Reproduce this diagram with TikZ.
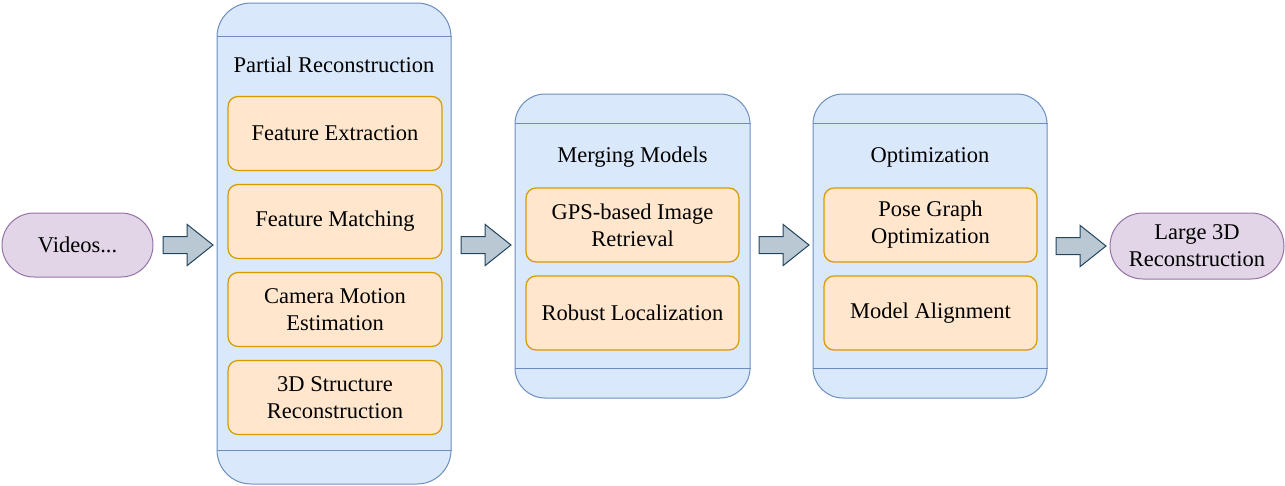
\documentclass[tikz,border=0pt]{standalone}
\usepackage{fontspec}
\setmainfont{Liberation Serif}
\usetikzlibrary{shapes.misc, shapes.arrows, positioning, calc}
\definecolor{laneFill}{HTML}{DAE8FC}
\definecolor{laneLine}{HTML}{6C8EBF}
\definecolor{stageFill}{HTML}{FFE6CC}
\definecolor{stageLine}{HTML}{D79B00}
\definecolor{termFill}{HTML}{E1D5E7}
\definecolor{termLine}{HTML}{9673A6}
\definecolor{arrFill}{HTML}{BAC8D3}
\definecolor{arrLine}{HTML}{23445D}
\tikzset{
  every node/.style={font=\fontsize{22.5}{27}\selectfont, align=center},
  terminal/.style={rounded rectangle, draw=termLine, fill=termFill,
    line width=1pt, inner sep=0pt},
  lane/.style={rectangle, draw=laneLine, fill=laneFill, line width=1pt},
  laneline/.style={draw=laneLine, line width=1pt},
  stage/.style={rectangle, rounded corners=10pt, minimum width=214pt,
    minimum height=74pt, draw=stageLine, fill=stageFill, line width=1.2pt,
    inner sep=2pt},
  blockarrow/.style={single arrow, draw=arrLine, fill=arrFill, line width=1pt,
    inner xsep=0pt, inner ysep=8pt, minimum height=50pt, minimum width=40pt,
    single arrow head extend=12pt, single arrow tip angle=77, anchor=west}
}
\begin{document}
\begin{tikzpicture}[x=1pt, y=-1pt]
\useasboundingbox (0,0) rectangle (1285,485);

% input and output
\node (vid) [terminal, minimum width=151pt, minimum height=64pt] at (77.5,245) {Videos...};
\node (big) [terminal, minimum width=174pt, minimum height=66pt] at (1197,246) {Large 3D\\Reconstruction};

% lanes
\node (pr) [lane, rounded corners=34pt, minimum width=234pt, minimum height=481pt] at (334,243.5) {};
\node (mm) [lane, rounded corners=30pt, minimum width=235pt, minimum height=304pt] at (632.5,246) {};
\node (op) [lane, rounded corners=30pt, minimum width=234pt, minimum height=304pt] at (930,246) {};
\draw [laneline] ($(pr.north west)+(0,34)$) -- ($(pr.north east)+(0,34)$);
\draw [laneline] ($(pr.south west)+(0,-34)$) -- ($(pr.south east)+(0,-34)$);
\draw [laneline] ($(mm.north west)+(0,30)$) -- ($(mm.north east)+(0,30)$);
\draw [laneline] ($(mm.south west)+(0,-30)$) -- ($(mm.south east)+(0,-30)$);
\draw [laneline] ($(op.north west)+(0,30)$) -- ($(op.north east)+(0,30)$);
\draw [laneline] ($(op.south west)+(0,-30)$) -- ($(op.south east)+(0,-30)$);

% partial reconstruction
\node (prt) at (334,65) {Partial Reconstruction};
\node (fext) [stage] at (335,133.5)           {Feature Extraction};
\node (fmat) [stage, below=12.8pt of fext]    {Feature Matching};
\node (cme)  [stage, below=12.8pt of fmat]    {Camera Motion\\Estimation};
\node (srec) [stage, below=12.8pt of cme]     {3D Structure\\Reconstruction};

% merging models
\node (mmt) at (632.5,157) {Merging Models};
\node (gps)  [stage, minimum width=213pt] at (632.5,225) {GPS-based Image\\Retrieval};
\node (rloc) [stage, minimum width=213pt, below=12.8pt of gps] {Robust Localization};

% optimization
\node (opt) at (930,157) {Optimization};
\node (pgo)  [stage, minimum width=213pt] at (930.5,225) {Pose Graph\\Optimization};
\node (malg) [stage, minimum width=213pt, below=12.8pt of pgo] {Model Alignment};

% flow
\node (a1) [blockarrow, right=9pt of vid] {};
\node (a2) [blockarrow] at ($(pr.east)+(9,1.5)$) {};
\node (a3) [blockarrow] at ($(mm.east)+(8,-1)$) {};
\node (a4) [blockarrow] at ($(op.east)+(8,0)$) {};
\end{tikzpicture}
\end{document}
